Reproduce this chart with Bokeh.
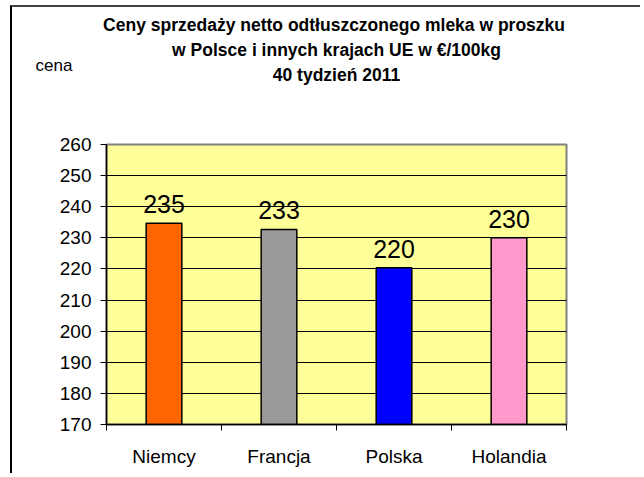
from bokeh.plotting import figure
from bokeh.models import (ColumnDataSource, Range1d, LinearAxis,
                          FixedTicker, LabelSet, Title)
from bokeh.core.properties import value
from bokeh.embed import file_html
from bokeh.resources import INLINE

# ---- data ----
categories = ["Niemcy", "Francja", "Polska", "Holandia"]
prices = [234.7, 232.7, 220.4, 230.0]
price_labels = ["235", "233", "220", "230"]
bar_colors = ["#FF6600", "#999999", "#0000FF", "#FF99CC"]
y_ticks = [170, 180, 190, 200, 210, 220, 230, 240, 250, 260]
title_lines = ["Ceny sprzedaży netto odtłuszczonego mleka w  proszku",
               "w Polsce i innych krajach UE w €/100kg",
               "40 tydzień 2011"]
y_title = "cena"

FONT = "Liberation Sans"
W, H = 630, 468
n = len(categories)
centers = [i + 0.5 for i in range(n)]

src = ColumnDataSource(dict(x=centers, val=prices, lab=price_labels, col=bar_colors))

p = figure(x_range=Range1d(0, n), y_range=Range1d(y_ticks[0], y_ticks[-1]), title=None,
           width=W, height=H, output_backend="svg", toolbar_location=None,
           x_axis_location=None, y_axis_location="left",
           min_border_left=94, min_border_right=76, min_border_top=137,
           min_border_bottom=51)
p.margin = (5, 0, 0, 10)
p.border_fill_color = "white"
p.styles = {"border-top": "2px solid #404040", "border-left": "2px solid #000000"}

p.background_fill_color = "#FFFF99"
p.outline_line_color = "#808080"
p.outline_line_width = 2

p.xgrid.visible = False
p.ygrid.grid_line_color = "black"
p.ygrid.grid_line_width = 1

ya = p.yaxis[0]
ya.ticker = FixedTicker(ticks=y_ticks)
ya.minor_tick_line_color = None
ya.major_tick_out = 6
ya.major_tick_in = 0
ya.major_tick_line_color = "black"
ya.axis_line_color = "black"
ya.axis_line_width = 1.5
ya.major_label_text_font = FONT
ya.major_label_text_font_size = "19px"
ya.major_label_text_color = "black"
ya.major_label_standoff = 9

# boundary ticks on the category axis
bax = LinearAxis(ticker=FixedTicker(ticks=list(range(n + 1))),
                 major_tick_out=6, major_tick_in=0, minor_tick_line_color=None,
                 major_label_text_font_size="1px", major_label_text_color=None,
                 major_label_standoff=0, axis_line_color="black", axis_line_width=1.5)
p.add_layout(bax, "below")
cax = LinearAxis(ticker=FixedTicker(ticks=centers),
                 major_label_overrides={c: name for c, name in zip(centers, categories)},
                 axis_line_color=None, major_tick_line_color=None, minor_tick_line_color=None,
                 major_label_standoff=9, major_label_text_font=FONT,
                 major_label_text_font_size="19px", major_label_text_color="black")
p.add_layout(cax, "below")

p.vbar(x="x", top="val", bottom=y_ticks[0], width=0.31, fill_color="col",
       line_color="black", line_width=1.5, source=src)

p.add_layout(LabelSet(x="x", y="val", text="lab", source=src, y_offset=10,
                      text_align="center", text_baseline="alphabetic",
                      text_font=value(FONT), text_font_size=value("25px"),
                      text_color="black"))


def title(text, so, **kw):
    style = dict(text_font=FONT, text_font_size="17.5px",
                 text_font_style="bold", text_color="black")
    style.update(kw)
    return Title(text=text, standoff=so, **style)


try:
    # zero-height row for "cena", sitting between title lines 3 and 2
    cena = title(y_title, -25, align="left", offset=-71,
                 text_font_size="17px", text_font_style="normal")
    rows = [title(" ", 38),
            title(title_lines[2], 0, align="center"),
            cena,
            title(title_lines[1], 6, align="center"),
            title(title_lines[0], 0, align="center")]
except Exception:
    rows = [title(y_title, 38, align="left", offset=-71,
                  text_font_size="17px", text_font_style="normal"),
            title(title_lines[2], 0, align="center"),
            title(title_lines[1], 6, align="center"),
            title(title_lines[0], 0, align="center")]

for r in rows:
    p.add_layout(r, "above")

open("out.html", "w").write(file_html(p, INLINE))
